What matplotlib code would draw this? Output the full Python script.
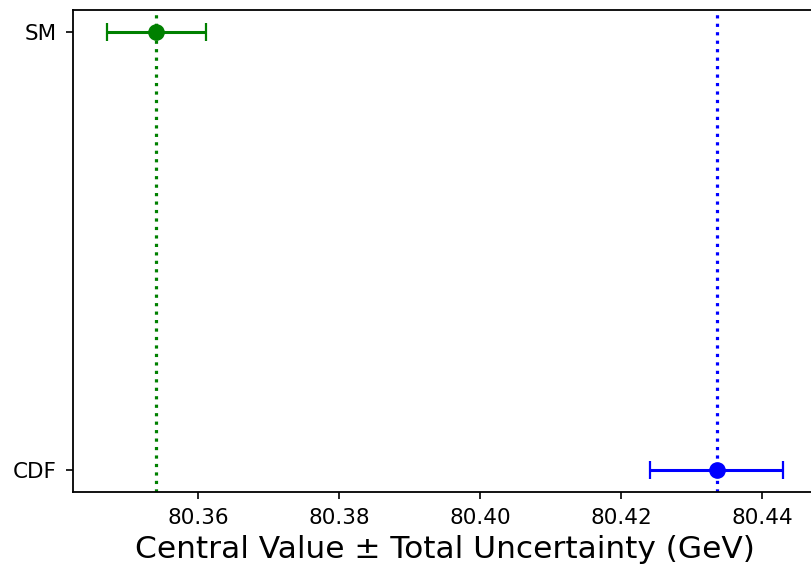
import matplotlib
matplotlib.use("Agg")
import matplotlib.pyplot as plt

labels = ["CDF", "SM"]
values = [80.4335, 80.3540]
errors = [0.0094, 0.0070]
colors = ["blue", "green"]
xlim = (80.3422, 80.4477)

W, H = 812, 570
fig = plt.figure(figsize=(W / 100, H / 100), dpi=100)
left_px, right_px, top_px, bottom_px = 73, 73 + (xlim[1] - xlim[0]) * 7050, 10, 492
ax = fig.add_axes([left_px / W, (H - bottom_px) / H, (right_px - left_px) / W, (bottom_px - top_px) / H])

for i, (v, e, c) in enumerate(zip(values, errors, colors)):
    ax.errorbar(v, i, xerr=e, fmt="o", color=c, capsize=6.5, markersize=11, elinewidth=2.2, capthick=1.6)
    ax.axvline(v, color=c, linestyle=":", linewidth=2.3)

ax.set_yticks(range(len(labels)))
ax.set_yticklabels(labels)
ax.set_xlim(*xlim)
ax.set_xticks([80.36, 80.38, 80.40, 80.42, 80.44])
ax.set_xticklabels(["80.36", "80.38", "80.40", "80.42", "80.44"])
ax.tick_params(labelsize=15.5, length=5, width=1.2, pad=6.5)
for s in ax.spines.values():
    s.set_linewidth(1.3)
ax.set_xlabel("Central Value ± Total Uncertainty (GeV)", fontsize=22.5, labelpad=5)

fig.savefig("out.png", dpi=100)
